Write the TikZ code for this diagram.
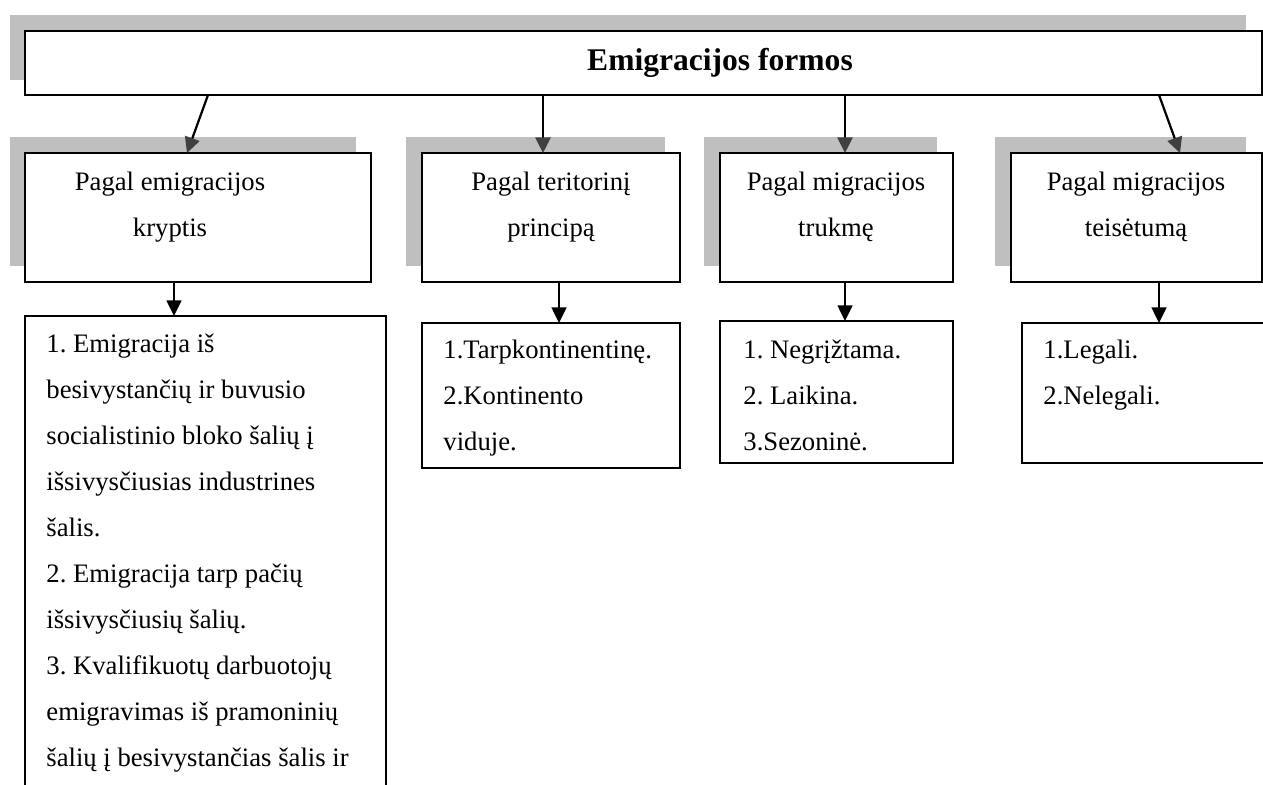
\documentclass[tikz,border=0pt]{standalone}
\usepackage{fontspec}
\setmainfont{Liberation Serif}
\usetikzlibrary{arrows.meta,calc,fit}
\definecolor{shadowgray}{RGB}{191,191,191}
\definecolor{tipgray}{RGB}{64,64,64}
\newcommand\fstrut{\rule{0pt}{9pt}}
\frenchspacing
\begin{document}
\begin{tikzpicture}[x=0.45pt,y=-0.45pt,
  shadowbox/.style={fill=shadowgray, draw=none},
  box/.style={draw=black, fill=white, line width=1pt, inner sep=0pt, outer sep=0pt},
  arrT/.style={line width=1pt, -{Triangle[length=7pt,width=6.8pt,color=tipgray]}},
  arrB/.style={line width=1pt, -{Triangle[length=7pt,width=6.6pt]}},
  headtext/.style={anchor=north, align=center, inner sep=0pt, font=\fontsize{12}{20.7}\selectfont},
  listtext/.style={anchor=north west, align=left, inner sep=0pt, font=\fontsize{12}{20.7}\selectfont},
  titletext/.style={anchor=base, inner sep=0pt, font=\bfseries\fontsize{14.2}{16}\selectfont}
]
\useasboundingbox (0,0) rectangle (1263,784);
\clip (0,0) rectangle (1263,784);
\fill[white] (0,0) rectangle (1263,784);

% shadows
\fill[shadowbox] (10,15) rectangle (1246,80);
\fill[shadowbox] (10,137) rectangle (356,266);
\fill[shadowbox] (406,137) rectangle (665,266);
\fill[shadowbox] (704,137) rectangle (937,266);
\fill[shadowbox] (995,137) rectangle (1246,266);

% boxes
\node[box, fit={(25,31)(1262,95)}] (top) {};
\node[box, fit={(25,153)(371,282)}] (b1) {};
\node[box, fit={(422,153)(680,282)}] (b2) {};
\node[box, fit={(720,153)(953,282)}] (b3) {};
\node[box, fit={(1011,153)(1262,282)}] (b4) {};
\node[box, fit={(25,316)(386,800)}] (c1) {};
\node[box, fit={(422,323)(680,468)}] (c2) {};
\node[box, fit={(720,321)(953,463)}] (c3) {};
\node[box, fit={(1022,323)(1290,463)}] (c4) {};

% texts
\node[titletext] (title) at (720,70) {Emigracijos formos};
\node[headtext] (h1) at (170,170) {\fstrut Pagal emigracijos\\kryptis};
\node[headtext] (h2) at (551,170) {\fstrut Pagal teritorinį\\principą};
\node[headtext] (h3) at (836,170) {\fstrut Pagal migracijos\\trukmę};
\node[headtext] (h4) at (1136,170) {\fstrut Pagal migracijos\\teisėtumą};

\node[listtext] (l1) at (46,332) {\fstrut 1. Emigracija iš\\
besivystančių ir buvusio\\
socialistinio bloko šalių į\\
išsivysčiusias industrines\\
šalis.\\
2. Emigracija tarp pačių\\
išsivysčiusių šalių.\\
3. Kvalifikuotų darbuotojų\\
emigravimas iš pramoninių\\
šalių į besivystančias šalis ir};
\node[listtext] (l2) at (443,338) {\fstrut 1.Tarpkontinentinę.\\2.Kontinento\\viduje.};
\node[listtext] (l3) at (743,338) {\fstrut 1. Negrįžtama.\\2. Laikina.\\3.Sezoninė.};
\node[listtext] (l4) at (1043,338) {\fstrut 1.Legali.\\2.Nelegali.};

% connectors top -> level 2
\draw[arrT] ($(top.south west)+(183,0)$) -- ($(b1.north west)+(162,0)$);
\draw[arrT] ($(top.south west)+(518,0)$) -- ($(b2.north west)+(121,0)$);
\draw[arrT] ($(top.south west)+(820,0)$) -- ($(b3.north west)+(125,0)$);
\draw[arrT] ($(top.south west)+(1134,0)$) -- ($(b4.north west)+(169,0)$);

% connectors level 2 -> level 3
\draw[arrB] ($(b1.south west)+(149,0)$) -- ($(c1.north west)+(149,0)$);
\draw[arrB] ($(b2.south west)+(137,0)$) -- ($(c2.north west)+(137,0)$);
\draw[arrB] ($(b3.south west)+(125,0)$) -- ($(c3.north west)+(125,0)$);
\draw[arrB] ($(b4.south west)+(148,0)$) -- ($(c4.north west)+(137,0)$);
\end{tikzpicture}
\end{document}
